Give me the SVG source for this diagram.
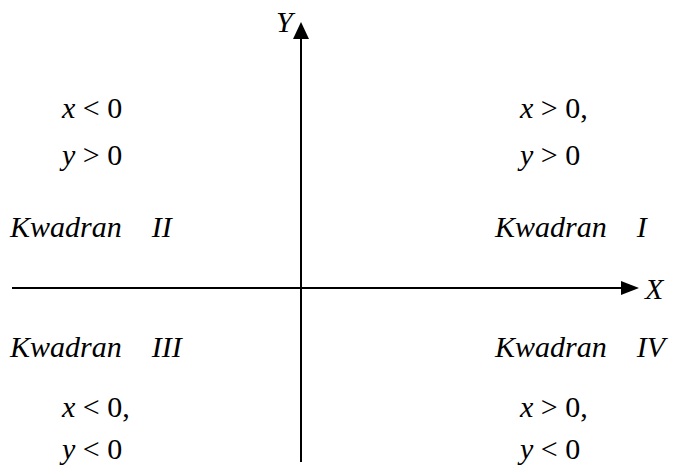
<svg xmlns="http://www.w3.org/2000/svg" width="673" height="466" viewBox="0 0 673 466">
<style>
text{font-family:"Liberation Serif","Times New Roman",serif;font-size:30px;fill:#000}
.i{font-style:italic}
.ax{stroke:#000;stroke-width:2;fill:none}
</style>
<rect width="673" height="466" fill="#fff"/>
<g id="axes">
<line class="ax" x1="301" y1="36" x2="301" y2="462"/>
<polygon points="301,22 293,39 309,39" fill="#000"/>
<line class="ax" x1="12" y1="288" x2="624" y2="288"/>
<polygon points="639,288 621,281 621,295" fill="#000"/>
</g>
<g id="labels">
<text class="i" x="276" y="32">Y</text>
<text class="i" x="645" y="299">X</text>
</g>
<g id="q2">
<text x="62" y="118" xml:space="preserve"><tspan class="i">x</tspan> &lt; 0</text>
<text x="62" y="165" xml:space="preserve"><tspan class="i">y</tspan> &gt; 0</text>
<text class="i" x="10" y="237" xml:space="preserve">Kwadran    II</text>
</g>
<g id="q1">
<text x="520" y="118" xml:space="preserve"><tspan class="i">x</tspan> &gt; 0,</text>
<text x="520" y="165" xml:space="preserve"><tspan class="i">y</tspan> &gt; 0</text>
<text class="i" x="495" y="237" xml:space="preserve">Kwadran    I</text>
</g>
<g id="q3">
<text class="i" x="10" y="357" xml:space="preserve">Kwadran    III</text>
<text x="62" y="417" xml:space="preserve"><tspan class="i">x</tspan> &lt; 0,</text>
<text x="62" y="459" xml:space="preserve"><tspan class="i">y</tspan> &lt; 0</text>
</g>
<g id="q4">
<text class="i" x="495" y="357" xml:space="preserve">Kwadran    IV</text>
<text x="520" y="417" xml:space="preserve"><tspan class="i">x</tspan> &gt; 0,</text>
<text x="520" y="459" xml:space="preserve"><tspan class="i">y</tspan> &lt; 0</text>
</g>
</svg>
